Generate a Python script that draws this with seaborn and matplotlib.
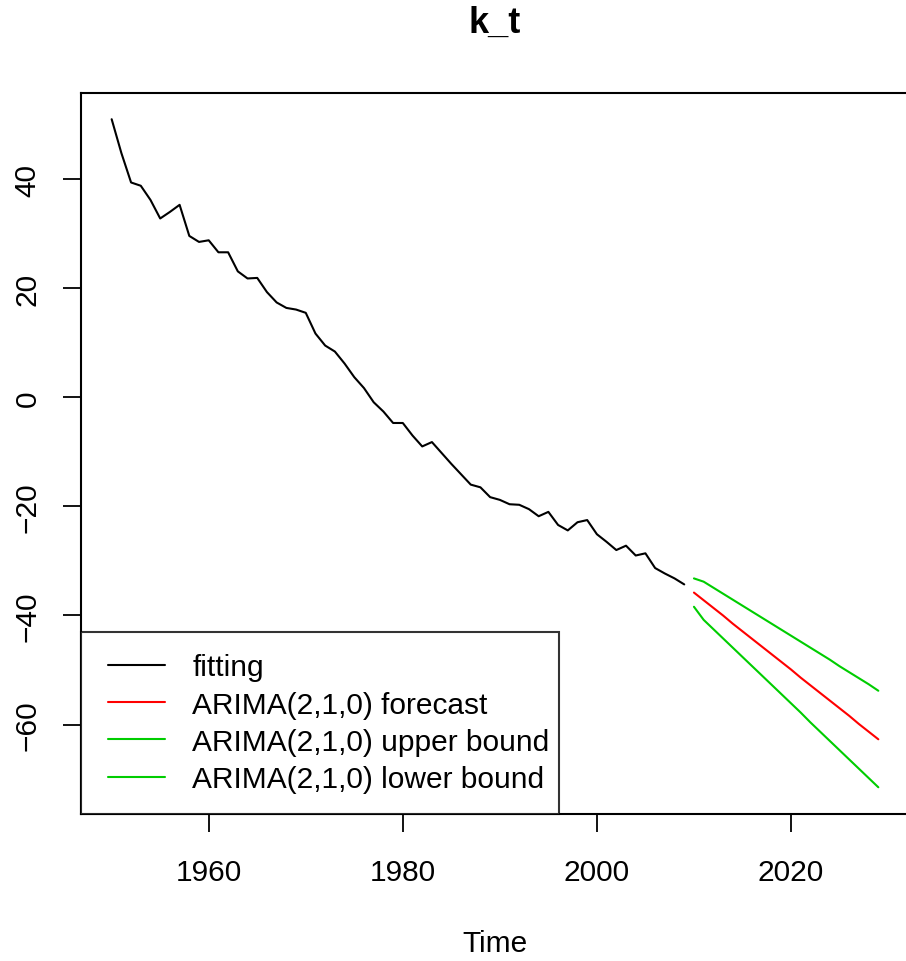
"""
k_t mortality index: fitted series and ARIMA(2,1,0) forecast with bounds.
"""

import pandas as pd
import matplotlib.pyplot as plt
import seaborn as sns
from matplotlib.legend_handler import HandlerLine2D

# fitted k_t, 1950-2009
fit_years = list(range(1950, 2010))
fit_values = [
    51.0, 44.8, 39.4, 38.8, 36.2, 32.8, 34.0, 35.3, 29.6, 28.5,
    28.8, 26.6, 26.6, 23.1, 21.8, 21.9, 19.3, 17.4, 16.4, 16.1,
    15.5, 11.7, 9.5, 8.4, 6.2, 3.7, 1.7, -0.9, -2.6, -4.7,
    -4.7, -7.0, -9.0, -8.2, -10.2, -12.2, -14.1, -16.0, -16.5, -18.3,
    -18.8, -19.6, -19.7, -20.5, -21.8, -21.0, -23.4, -24.4, -22.9, -22.5,
    -25.1, -26.5, -28.0, -27.2, -29.0, -28.6, -31.3, -32.3, -33.2, -34.3,
]

# forecast horizon, 2010-2029
fc_years = list(range(2010, 2030))
fc_mean = [
    -35.8, -37.2, -38.6, -40.0, -41.5, -42.9, -44.3, -45.7, -47.1, -48.5,
    -49.9, -51.4, -52.8, -54.2, -55.6, -57.0, -58.4, -59.9, -61.3, -62.7,
]
fc_upper = [
    -33.2, -33.8, -34.9, -36.0, -37.1, -38.2, -39.3, -40.4, -41.5, -42.6,
    -43.7, -44.8, -45.9, -47.0, -48.1, -49.3, -50.4, -51.5, -52.6, -53.8,
]
fc_lower = [
    -38.4, -40.8, -42.5, -44.2, -45.9, -47.6, -49.3, -51.0, -52.7, -54.4,
    -56.1, -57.8, -59.6, -61.3, -63.0, -64.7, -66.4, -68.1, -69.8, -71.5,
]

labels = ['fitting', 'ARIMA(2,1,0) forecast',
          'ARIMA(2,1,0) upper bound', 'ARIMA(2,1,0) lower bound']
colors = ['black', '#ff0000', '#00cd00', '#00cd00']

sns.set_style('white')
plt.rcParams['font.family'] = ['Liberation Sans', 'DejaVu Sans']
plt.rcParams['text.color'] = 'black'
plt.rcParams['axes.labelcolor'] = 'black'

FS = 21.5

fit_df = pd.DataFrame({'year': fit_years, 'value': fit_values})
fc_df = pd.DataFrame({'year': fc_years, 'mean': fc_mean,
                      'upper': fc_upper, 'lower': fc_lower})

fig = plt.figure(figsize=(9.06, 9.62), dpi=100)
ax = fig.add_axes([81 / 906, 1 - 815 / 962, 828 / 906, 721.5 / 962])

sns.lineplot(data=fit_df, x='year', y='value', ax=ax,
             color=colors[0], lw=1.5, label=labels[0])
for col, lab, c in zip(['mean', 'upper', 'lower'], labels[1:], colors[1:]):
    sns.lineplot(data=fc_df, x='year', y=col, ax=ax,
                 color=c, lw=1.5, label=lab)

# R-style 4% padding on both axes
all_y = fit_values + fc_upper + fc_lower
xr = fc_years[-1] - fit_years[0]
yr = max(all_y) - min(all_y)
ax.set_xlim(fit_years[0] - 0.04 * xr, fc_years[-1] + 0.04 * xr)
ax.set_ylim(min(all_y) - 0.04 * yr, max(all_y) + 0.04 * yr)

ax.set_xticks([1960, 1980, 2000, 2020])
ax.set_yticks([-60, -40, -20, 0, 20, 40])
ax.tick_params(axis='both', direction='out', length=13, width=1.3,
               colors='black', labelsize=FS, bottom=True, left=True)
ax.tick_params(axis='x', pad=18.5)
ax.tick_params(axis='y', pad=15.5)
for t in ax.get_yticklabels():
    t.set_rotation(90)
    t.set_va('center')

for s in ax.spines.values():
    s.set_color('black')
    s.set_linewidth(1.5)

ax.set_xlabel('Time', fontsize=FS, labelpad=31)
ax.set_ylabel('')
fig.text((81 + 909) / 2 / 906, 1 - 33 / 962, 'k_t', ha='center',
         va='baseline', fontsize=26, fontweight='bold')

# legend box spans 81..559 px, flush with the lower-left corner
leg = ax.legend(loc='lower left', bbox_to_anchor=(0, 0, 478 / 828, 0.3),
                mode='expand', borderaxespad=0, fontsize=FS, frameon=True,
                fancybox=False, handlelength=2.1, handletextpad=0.93,
                labelspacing=0.31, borderpad=0.7,
                handler_map={plt.Line2D: HandlerLine2D(xpad=0.2)})
leg.get_frame().set_edgecolor('black')
leg.get_frame().set_linewidth(1.5)

fig.savefig('out.png', dpi=100)
plt.close(fig)
